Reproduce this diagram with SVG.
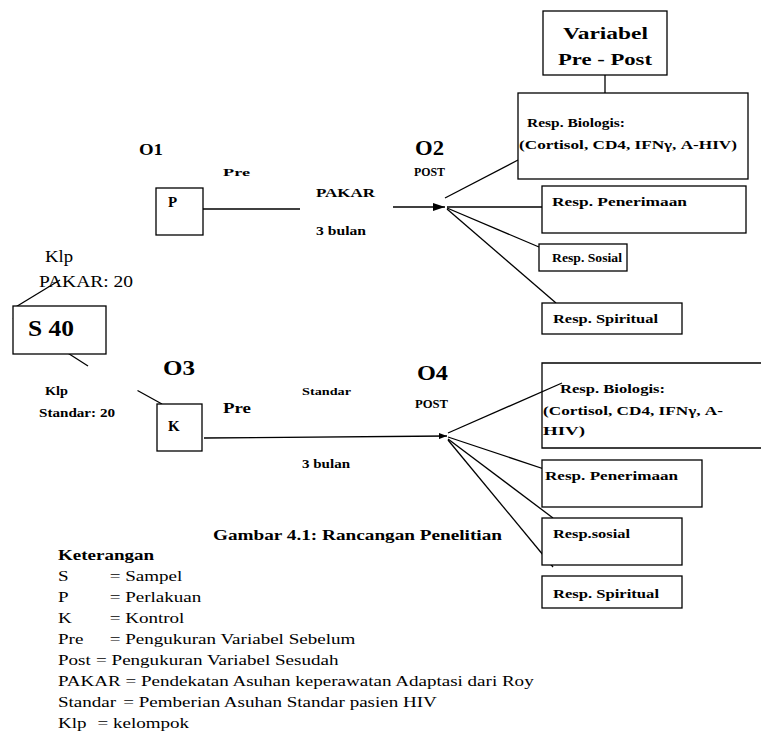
<svg xmlns="http://www.w3.org/2000/svg" width="761" height="753" viewBox="0 0 761 753">
<style>
.bx{fill:#fff;stroke:#000;stroke-width:1.3}
.ln{fill:none;stroke:#000;stroke-width:1.3}
text{font-family:"Liberation Serif","Times New Roman",serif;fill:#000}
.b{font-weight:bold}
</style>
<defs>
<marker id="ah" markerWidth="12" markerHeight="8" refX="12" refY="4" orient="auto" markerUnits="userSpaceOnUse">
<path d="M0,0 L12,4 L0,8 z" fill="#000"/>
</marker>
<marker id="ah2" markerWidth="8" markerHeight="6" refX="8" refY="3" orient="auto" markerUnits="userSpaceOnUse">
<path d="M0,0 L8,3 L0,6 z" fill="#000"/>
</marker>
</defs>
<rect width="761" height="753" fill="#fff"/>

<g id="connectors">
<line class="ln" x1="605" y1="75" x2="605" y2="93"/>
<line class="ln" x1="14" y1="308" x2="60" y2="280"/>
<line class="ln" x1="13" y1="318" x2="88" y2="366"/>
<line class="ln" x1="137.5" y1="390.5" x2="162" y2="404"/>
<line class="ln" x1="188" y1="209" x2="300" y2="209"/>
<line class="ln" x1="393" y1="207" x2="445" y2="207" marker-end="url(#ah)"/>
<line class="ln" x1="204" y1="438" x2="447" y2="436" marker-end="url(#ah2)"/>
<line class="ln" x1="445" y1="198" x2="518" y2="160"/>
<line class="ln" x1="447" y1="207" x2="542" y2="207"/>
<line class="ln" x1="447" y1="208" x2="539" y2="247"/>
<line class="ln" x1="447" y1="209" x2="556" y2="303"/>
<line class="ln" x1="448" y1="433" x2="562" y2="383"/>
<line class="ln" x1="448" y1="437" x2="553" y2="472"/>
<line class="ln" x1="448" y1="439" x2="553" y2="518"/>
<line class="ln" x1="448" y1="440" x2="553" y2="567"/>
</g>

<g id="variabel">
<rect class="bx" x="543" y="11" width="124" height="64"/>
<text class="b" x="563" y="39" font-size="17" textLength="85" lengthAdjust="spacingAndGlyphs">Variabel</text>
<text class="b" x="558" y="65" font-size="17" textLength="94" lengthAdjust="spacingAndGlyphs">Pre - Post</text>
</g>

<g id="o1-label">
<text class="b" x="139" y="155" font-size="17" textLength="24" lengthAdjust="spacingAndGlyphs">O1</text>
<text class="b" x="223" y="176" font-size="11" textLength="27" lengthAdjust="spacingAndGlyphs">Pre</text>
<text class="b" x="316" y="197" font-size="13" textLength="59" lengthAdjust="spacingAndGlyphs">PAKAR</text>
<text class="b" x="316" y="235" font-size="12" textLength="50" lengthAdjust="spacingAndGlyphs">3 bulan</text>
</g>

<g id="p">
<rect class="bx" x="156" y="188" width="47" height="47"/>
<text class="b" x="168" y="207" font-size="15">P</text>
</g>

<g id="klp-pakar">
<text x="45" y="262" font-size="17" textLength="28" lengthAdjust="spacingAndGlyphs">Klp</text>
<text x="39" y="287" font-size="17" textLength="94" lengthAdjust="spacingAndGlyphs">PAKAR: 20</text>
</g>

<g id="s40">
<rect class="bx" x="13" y="306" width="93" height="48"/>
<text class="b" x="28" y="336" font-size="24" textLength="46" lengthAdjust="spacingAndGlyphs">S 40</text>
</g>

<g id="klp-standar">
<text class="b" x="45" y="395" font-size="12" textLength="23" lengthAdjust="spacingAndGlyphs">Klp</text>
<text class="b" x="39" y="417" font-size="12" textLength="76" lengthAdjust="spacingAndGlyphs">Standar: 20</text>
</g>

<g id="o3-label">
<text class="b" x="163" y="375" font-size="21" textLength="32" lengthAdjust="spacingAndGlyphs">O3</text>
<text class="b" x="223" y="413" font-size="14" textLength="28" lengthAdjust="spacingAndGlyphs">Pre</text>
<text class="b" x="302" y="395" font-size="11" textLength="49" lengthAdjust="spacingAndGlyphs">Standar</text>
<text class="b" x="302" y="468" font-size="12" textLength="48" lengthAdjust="spacingAndGlyphs">3 bulan</text>
</g>

<g id="k">
<rect class="bx" x="157" y="404" width="45" height="47"/>
<text class="b" x="168" y="431" font-size="15">K</text>
</g>

<g id="o2-label">
<text class="b" x="415" y="155" font-size="20" textLength="29" lengthAdjust="spacingAndGlyphs">O2</text>
<text class="b" x="414" y="176" font-size="12" textLength="31" lengthAdjust="spacingAndGlyphs">POST</text>
</g>

<g id="o4-label">
<text class="b" x="417" y="380" font-size="20" textLength="31" lengthAdjust="spacingAndGlyphs">O4</text>
<text class="b" x="415" y="408" font-size="12" textLength="33" lengthAdjust="spacingAndGlyphs">POST</text>
</g>

<g id="biologis-1">
<rect class="bx" x="518" y="93" width="230" height="86"/>
<text class="b" x="527" y="127" font-size="12" textLength="98" lengthAdjust="spacingAndGlyphs">Resp. Biologis:</text>
<text class="b" x="519" y="149" font-size="12" textLength="218" lengthAdjust="spacingAndGlyphs">(Cortisol, CD4, IFNγ, A-HIV)</text>
</g>

<g id="penerimaan-1">
<rect class="bx" x="542" y="186" width="204" height="47"/>
<text class="b" x="552" y="206" font-size="12" textLength="135" lengthAdjust="spacingAndGlyphs">Resp. Penerimaan</text>
</g>

<g id="sosial-1">
<rect class="bx" x="539" y="244" width="88" height="27"/>
<text class="b" x="552" y="262" font-size="12" textLength="70" lengthAdjust="spacingAndGlyphs">Resp. Sosial</text>
</g>

<g id="spiritual-1">
<rect class="bx" x="542" y="303" width="140" height="31"/>
<text class="b" x="553" y="323" font-size="12" textLength="105" lengthAdjust="spacingAndGlyphs">Resp. Spiritual</text>
</g>

<g id="biologis-2">
<path class="ln" d="M770,363 L542,363 L542,448 L770,448" fill="#fff"/>
<text class="b" x="560" y="393" font-size="12" textLength="105" lengthAdjust="spacingAndGlyphs">Resp. Biologis:</text>
<text class="b" x="543" y="415" font-size="12" textLength="180" lengthAdjust="spacingAndGlyphs">(Cortisol, CD4, IFNγ,  A-</text>
<text class="b" x="543" y="435" font-size="12" textLength="42" lengthAdjust="spacingAndGlyphs">HIV)</text>
</g>

<g id="penerimaan-2">
<rect class="bx" x="542" y="460" width="160" height="47"/>
<text class="b" x="545" y="480" font-size="12" textLength="133" lengthAdjust="spacingAndGlyphs">Resp. Penerimaan</text>
</g>

<g id="sosial-2">
<rect class="bx" x="542" y="518" width="140" height="47"/>
<text class="b" x="553" y="538" font-size="12" textLength="77" lengthAdjust="spacingAndGlyphs">Resp.sosial</text>
</g>

<g id="spiritual-2">
<rect class="bx" x="542" y="576" width="140" height="32"/>
<text class="b" x="553" y="598" font-size="12" textLength="106" lengthAdjust="spacingAndGlyphs">Resp. Spiritual</text>
</g>

<g id="caption">
<text class="b" x="213" y="540" font-size="14" textLength="289" lengthAdjust="spacingAndGlyphs">Gambar 4.1: Rancangan Penelitian</text>
</g>

<g id="legend" font-size="14" transform="translate(58,0) scale(1.36,1) translate(-58,0)">
<text class="b" x="58" y="560">Keterangan</text>
<text x="58" y="581">S</text><text x="96" y="581">= Sampel</text>
<text x="58" y="602">P</text><text x="96" y="602">= Perlakuan</text>
<text x="58" y="623">K</text><text x="96" y="623">= Kontrol</text>
<text x="58" y="644">Pre</text><text x="96" y="644">= Pengukuran Variabel Sebelum</text>
<text x="58" y="665">Post</text><text x="86" y="665">= Pengukuran Variabel Sesudah</text>
<text x="58" y="686">PAKAR = Pendekatan Asuhan keperawatan Adaptasi dari Roy</text>
<text x="58" y="707">Standar</text><text x="106" y="707">= Pemberian Asuhan Standar pasien HIV</text>
<text x="58" y="728">Klp</text><text x="87" y="728">= kelompok</text>
</g>
</svg>
